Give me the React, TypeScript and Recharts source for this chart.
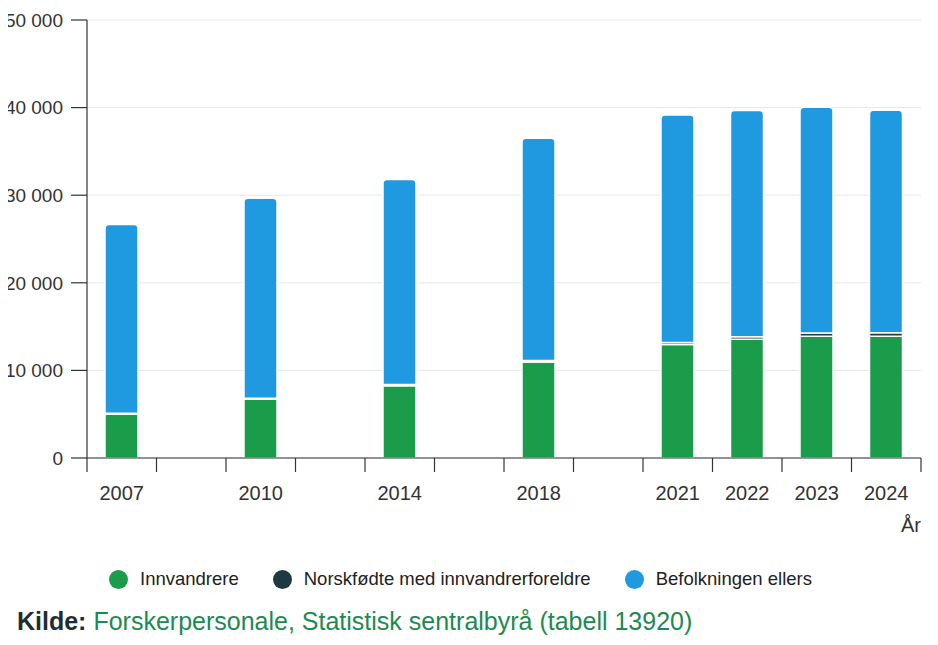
import { BarChart, Bar, XAxis, YAxis, CartesianGrid } from "recharts";

// empty slots between the survey years keep the spacing of the original
const categories = ["2007", "", "2010", "", "2014", "", "2018", "", "2021", "2022", "2023", "2024"];
const innvandrere = [5000, null, 6700, null, 8250, null, 10950, null, 12950, 13550, 13900, 13900];
const norskfodte = [100, null, 120, null, 150, null, 180, null, 230, 280, 380, 400];
const befolkningEllers = [21550, null, 22830, null, 23400, null, 25370, null, 25970, 25850, 25770, 25400];
const yTicks = [0, 10000, 20000, 30000, 40000, 50000];

const series = [
  { key: "innvandrere", name: "Innvandrere", color: "#1b9c4a" },
  { key: "norskfodte", name: "Norskfødte med innvandrerforeldre", color: "#1d3a42" },
  { key: "befolkning", name: "Befolkningen ellers", color: "#1f9ae0" },
];

const data = categories.map((c, i) => ({
  year: c,
  innvandrere: innvandrere[i],
  norskfodte: norskfodte[i],
  befolkning: befolkningEllers[i],
}));

const W = 938;
const H = 530;
const M = { top: 12, right: 17, left: 0, bottom: 0 };
const Y_W = 87;
const HALF_BAND = (W - M.left - M.right - Y_W) / categories.length / 2;
const AXIS = "#333";
const FONT = "'Liberation Sans', Arial, sans-serif";

const fmt = (v: number) => String(v).replace(/\B(?=(\d{3})+(?!\d))/g, " ");

function XTick({ x, y, payload, index }: any) {
  const last = index === categories.length - 1;
  return (
    <g>
      <line x1={x - HALF_BAND} x2={x - HALF_BAND} y1={y} y2={y + 14} stroke={AXIS} strokeWidth={1.2} />
      {last && <line x1={x + HALF_BAND} x2={x + HALF_BAND} y1={y} y2={y + 14} stroke={AXIS} strokeWidth={1.2} />}
      <text x={x} y={y + 42} textAnchor="middle" fill={AXIS} fontSize={20} fontFamily={FONT}>
        {payload.value}
      </text>
      {last && (
        <text x={x + HALF_BAND} y={y + 74} textAnchor="end" fill={AXIS} fontSize={20} fontFamily={FONT}>
          År
        </text>
      )}
    </g>
  );
}

export default function App() {
  return (
    <div style={{ fontFamily: FONT, width: W, marginLeft: -8 }}>
      <BarChart width={W} height={H} data={data} margin={M}>
        <CartesianGrid stroke="#e6e6e6" vertical={false} />
        <XAxis
          dataKey="year"
          interval={0}
          height={80}
          tickLine={false}
          tickSize={0}
          tickMargin={0}
          axisLine={{ stroke: AXIS, strokeWidth: 1.2 }}
          tick={<XTick />}
        />
        <YAxis
          width={Y_W}
          domain={[0, 50000]}
          ticks={yTicks}
          tickFormatter={fmt}
          tickSize={16}
          tickMargin={8}
          tickLine={{ stroke: AXIS, strokeWidth: 1.2 }}
          axisLine={{ stroke: AXIS, strokeWidth: 1.2 }}
          tick={{ fill: AXIS, fontSize: 19, fontFamily: FONT }}
        />
        {series.map((s, i) => (
          <Bar
            key={s.key}
            dataKey={s.key}
            name={s.name}
            stackId="a"
            fill={s.color}
            stroke="#fff"
            strokeWidth={1.5}
            barSize={33}
            radius={i === series.length - 1 ? [4, 4, 0, 0] : 0}
            isAnimationActive={false}
          />
        ))}
      </BarChart>
      <div
        style={{
          display: "flex",
          alignItems: "center",
          marginTop: 30,
          paddingLeft: 109,
          height: 22,
          fontSize: 18.5,
          color: "#222",
        }}
      >
        {series.map((s) => (
          <div key={s.key} style={{ display: "flex", alignItems: "center", marginRight: 34 }}>
            <span
              style={{
                display: "inline-block",
                width: 19,
                height: 19,
                borderRadius: "50%",
                background: s.color,
                marginRight: 12,
              }}
            />
            {s.name}
          </div>
        ))}
      </div>
      <div style={{ marginTop: 17, paddingLeft: 17, fontSize: 25, lineHeight: "28px", whiteSpace: "nowrap" }}>
        <b style={{ color: "#1d2e33" }}>Kilde:</b>{" "}
        <span style={{ color: "#1c8a52" }}>Forskerpersonale, Statistisk sentralbyrå (tabell 13920)</span>
      </div>
    </div>
  );
}
